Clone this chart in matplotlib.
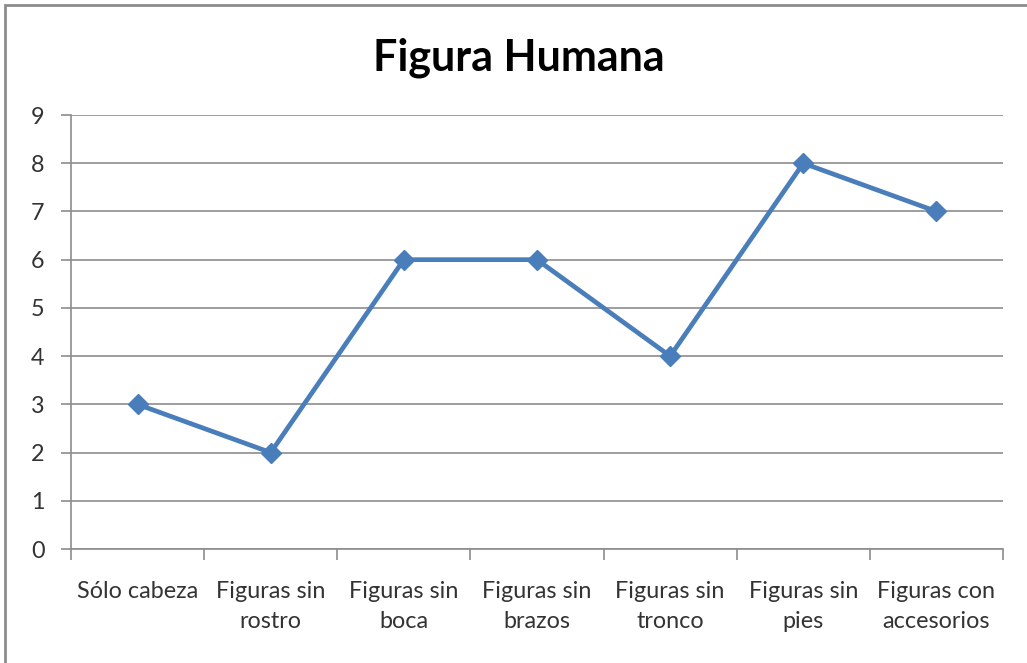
import numpy as np
import matplotlib.pyplot as plt
from matplotlib.patches import Rectangle

categorias = ["Sólo cabeza", "Figuras sin\nrostro", "Figuras sin\nboca",
              "Figuras sin\nbrazos", "Figuras sin\ntronco", "Figuras sin\npies",
              "Figuras con\naccesorios"]
valores = [3, 2, 6, 6, 4, 8, 7]
y_ticks = list(range(0, 10))

plt.rcParams['font.family'] = ['Lato', 'DejaVu Sans']

fig = plt.figure(figsize=(10.27, 6.63), dpi=100)
ax = fig.add_axes([71 / 1027, 1 - 549 / 663, (1003 - 71) / 1027, (549 - 115) / 663])

# marco del grafico
fig.patches.append(Rectangle((5 / 1027, -0.1), 1.2, 1 - 5 / 663 + 0.1,
                             transform=fig.transFigure, fill=False,
                             edgecolor='#8c8c8c', linewidth=2))

x = np.arange(len(categorias))
ax.plot(x, valores, color='#4a7ebb', linewidth=3.4, marker='D',
        markersize=10.5, markerfacecolor='#4a7ebb', markeredgecolor='#4a7ebb',
        zorder=3)

ax.set_xlim(-0.5, len(categorias) - 0.5)
ax.set_ylim(0, 9)
ax.set_yticks(y_ticks)
ax.grid(axis='y', color='#8c8c8c', linewidth=1.2)
ax.set_axisbelow(True)

ax.set_xticks(x)
ax.set_xticklabels(categorias, fontsize=16.8, color='#333333', linespacing=1.55)
ax.set_xticks(np.arange(-0.5, len(categorias)), minor=True)
ax.tick_params(axis='x', which='major', length=0, pad=23)
ax.tick_params(axis='x', which='minor', length=8, color='#8c8c8c', width=1.2)
ax.tick_params(axis='y', length=7, color='#8c8c8c', width=1.2,
               labelsize=16.8, labelcolor='#333333', pad=12)

for s in ['top', 'right']:
    ax.spines[s].set_visible(False)
for s in ['left', 'bottom']:
    ax.spines[s].set_color('#8c8c8c')
    ax.spines[s].set_linewidth(1.2)

fig.text(519 / 1027, 1 - 58 / 663, "Figura Humana", ha='center', va='center',
         fontsize=31, fontweight='bold', color='#000000')

fig.savefig('out.png', dpi=100)
